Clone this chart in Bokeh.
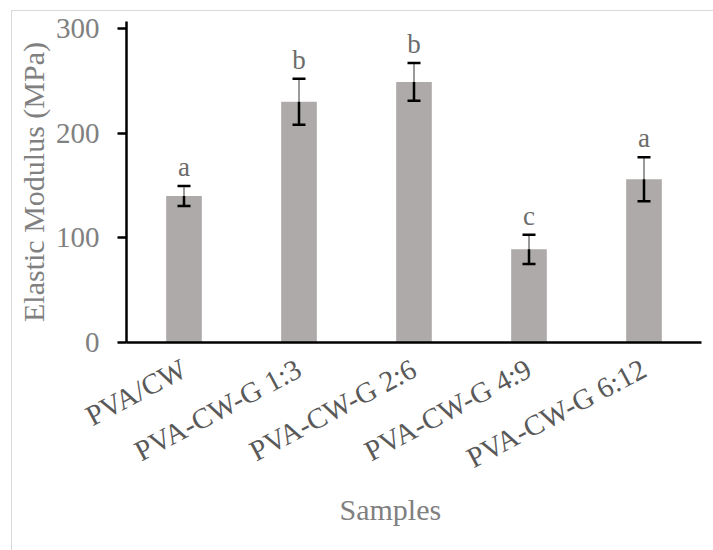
import math

from bokeh.core.properties import value
from bokeh.embed import file_html
from bokeh.models import ColumnDataSource, FactorRange, FixedTicker, Range1d, TeeHead, Title, Whisker
from bokeh.plotting import figure
from bokeh.resources import INLINE

# Elastic modulus of the film samples (mean, standard deviation, significance group)
samples = ["PVA/CW", "PVA-CW-G 1:3", "PVA-CW-G 2:6", "PVA-CW-G 4:9", "PVA-CW-G 6:12"]
modulus = [140, 230, 249, 89, 156]
modulus_sd = [9.5, 22, 18, 14, 21]
groups = ["a", "b", "b", "c", "a"]
y_ticks = [0, 100, 200, 300]

FONT = "Liberation Serif"
BAR = "#aeaaaa"

src = ColumnDataSource(dict(
    sample=samples,
    modulus=modulus,
    upper=[m + s for m, s in zip(modulus, modulus_sd)],
    lower=[m - s for m, s in zip(modulus, modulus_sd)],
    group=groups,
))

p = figure(
    width=702, height=540,
    x_range=FactorRange(*samples, range_padding=0),
    y_range=Range1d(0, 306.7),
    output_backend="svg", toolbar_location=None,
    min_border_left=114, min_border_right=13,
    min_border_top=10, min_border_bottom=209,
    outline_line_color=None,
)
p.margin = (10, 0, 0, 11)
p.styles = {"border-left": "1px solid #d9d9d9", "border-top": "1px solid #d9d9d9"}

p.vbar(x="sample", top="modulus", width=0.31, source=src, fill_color=BAR, line_color=None)

# upper half of each error bar (light stem, dark cap)
p.add_layout(Whisker(
    base="sample", lower="modulus", upper="upper", source=src, level="overlay",
    line_color="#9a9a9a", line_width=2,
    upper_head=TeeHead(size=13, line_color="black", line_width=2.5),
    lower_head=None,
))
# lower half of each error bar
p.add_layout(Whisker(
    base="sample", lower="lower", upper="modulus", source=src, level="overlay",
    line_color="black", line_width=2.5,
    lower_head=TeeHead(size=13, line_color="black", line_width=2.5),
    upper_head=None,
))

# significance letters above the error bars
p.text(x="sample", y="upper", text="group", source=src,
       text_font=value(FONT), text_font_size="27px", text_color="#6b6b6b",
       text_align="center", text_baseline="bottom", y_offset=-4)

p.xgrid.visible = False
p.ygrid.visible = False

ya = p.yaxis[0]
ya.ticker = FixedTicker(ticks=y_ticks)
ya.axis_line_color = "black"
ya.axis_line_width = 2.5
ya.major_tick_line_color = "black"
ya.major_tick_line_width = 2.5
ya.major_tick_out = 9
ya.major_tick_in = 0
ya.minor_tick_line_color = None
ya.major_label_text_font = FONT
ya.major_label_text_font_size = "29px"
ya.major_label_text_color = "#808080"
ya.major_label_standoff = 18
ya.axis_label = "Elastic Modulus (MPa)"
ya.axis_label_text_font = FONT
ya.axis_label_text_font_size = "30px"
ya.axis_label_text_font_style = "normal"
ya.axis_label_text_color = "#808080"
ya.axis_label_standoff = 3

xa = p.xaxis[0]
xa.axis_line_color = "black"
xa.axis_line_width = 2.5
xa.major_tick_line_color = None
xa.minor_tick_line_color = None
xa.major_label_orientation = math.radians(28)
xa.major_label_text_font = FONT
xa.major_label_text_font_size = "29px"
xa.major_label_text_color = "#595959"
xa.major_label_standoff = 18

p.add_layout(Title(text="Samples", align="left", offset=213,
                   text_font=FONT, text_font_size="30px", text_font_style="normal",
                   text_color="#808080", standoff=0), "below")

open("out.html", "w").write(file_html(p, INLINE))
